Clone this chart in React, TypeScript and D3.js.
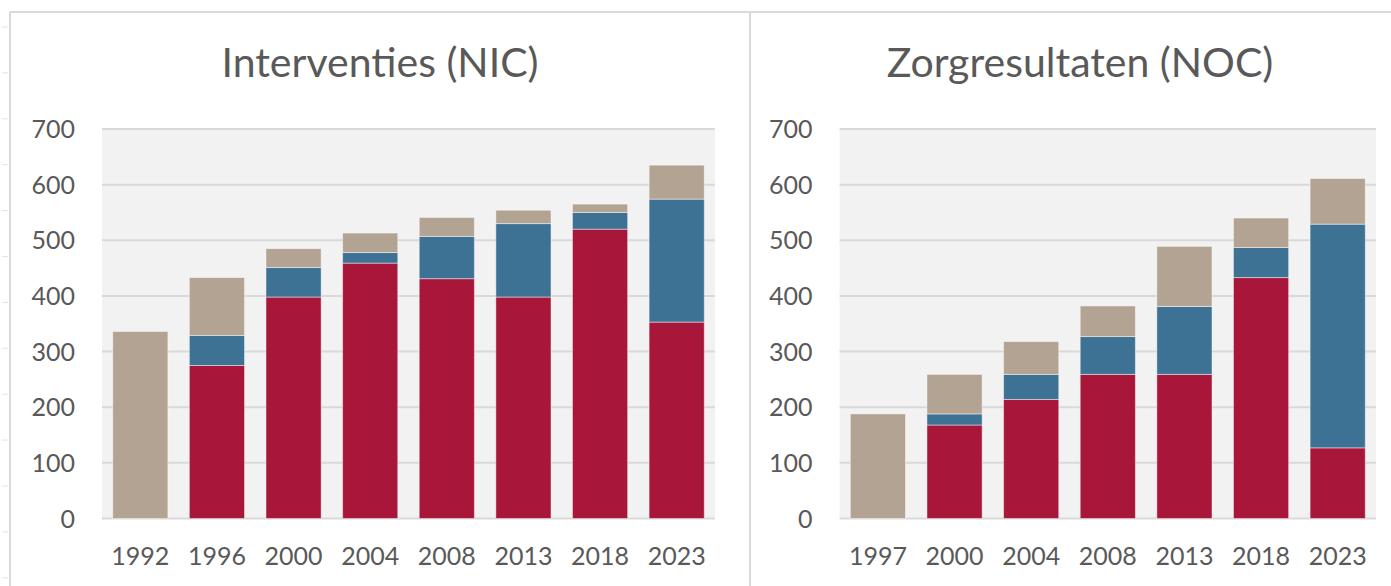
import * as d3 from 'd3';

// Interventies (NIC)
const nicYears = ['1992', '1996', '2000', '2004', '2008', '2013', '2018', '2023'];
const nicRed = [0, 275, 398, 459, 431, 398, 520, 353];
const nicBlue = [0, 54, 53, 19, 76, 132, 30, 221];
const nicBeige = [336, 104, 34, 35, 34, 24, 15, 61];

// Zorgresultaten (NOC)
const nocYears = ['1997', '2000', '2004', '2008', '2013', '2018', '2023'];
const nocRed = [0, 168, 214, 259, 259, 433, 127];
const nocBlue = [0, 20, 45, 68, 122, 54, 402];
const nocBeige = [188, 71, 59, 55, 108, 53, 82];

const yTicks = [0, 100, 200, 300, 400, 500, 600, 700];

const W = 1391;
const H = 586;
const FONT = 'Lato, "Open Sans", sans-serif';
const TEXT = '#595959';
const GRID = '#d9d9d9';
const COLORS = { red: '#a8173a', blue: '#3e7294', beige: '#b3a393' };

type Row = { year: string; red: number; blue: number; beige: number };

interface PanelProps {
  title: string;
  titleX: number;
  years: string[];
  red: number[];
  blue: number[];
  beige: number[];
  x0: number;
  x1: number;
}

const Panel = ({ title, titleX, years, red, blue, beige, x0, x1 }: PanelProps) => {
  const rows: Row[] = years.map((year, i) => ({ year, red: red[i], blue: blue[i], beige: beige[i] }));
  const keys: (keyof typeof COLORS)[] = ['red', 'blue', 'beige'];
  const series = d3.stack<Row>().keys(keys)(rows);

  const x = d3.scaleBand<string>().domain(years).range([x0, x1]).paddingInner(0.28).paddingOuter(0.14);
  const y = d3.scaleLinear().domain([0, 700]).range([518.5, 129]);

  return (
    <g>
      <text x={titleX} y={77} textAnchor="middle" fontSize={41} fill={TEXT} fontFamily={FONT}>
        {title}
      </text>
      <rect x={x0} y={y(700)} width={x1 - x0} height={y(0) - y(700)} fill="#f2f2f2" />
      {yTicks.map(t => (
        <g key={t}>
          <line x1={x0} x2={x1} y1={y(t)} y2={y(t)} stroke={GRID} strokeWidth={2} />
          <text x={x0 - 27} y={y(t) + 9} textAnchor="end" fontSize={25} fill={TEXT} fontFamily={FONT}>
            {t}
          </text>
        </g>
      ))}
      {series.map(s => (
        <g key={s.key} fill={COLORS[s.key as keyof typeof COLORS]}>
          {s.map(d =>
            d[1] - d[0] > 0 ? (
              <rect
                key={d.data.year}
                x={x(d.data.year)}
                y={y(d[1])}
                width={x.bandwidth()}
                height={y(d[0]) - y(d[1])}
                stroke="#ffffff"
                strokeOpacity={0.45}
                strokeWidth={1}
              />
            ) : null
          )}
        </g>
      ))}
      {years.map(yr => (
        <text
          key={yr}
          x={(x(yr) ?? 0) + x.bandwidth() / 2}
          y={565}
          textAnchor="middle"
          fontSize={25}
          fill={TEXT}
          fontFamily={FONT}
        >
          {yr}
        </text>
      ))}
    </g>
  );
};

export default function App() {
  const sideTicks = d3.range(27, H, 45.9);
  return (
    <div style={{ position: 'absolute', left: 0, top: 0 }}>
      <svg width={W} height={H} style={{ display: 'block', background: '#fff' }}>
        {sideTicks.map(t => (
          <line key={t} x1={2} x2={8} y1={t} y2={t} stroke="#e4e4e4" strokeWidth={1} />
        ))}
        <line x1={10} x2={W} y1={12} y2={12} stroke={GRID} strokeWidth={2} />
        <line x1={10} x2={10} y1={12} y2={H} stroke={GRID} strokeWidth={2} />
        <line x1={750} x2={750} y1={12} y2={H} stroke={GRID} strokeWidth={2} />
        <Panel
          title="Interventies (NIC)"
          titleX={380}
          years={nicYears}
          red={nicRed}
          blue={nicBlue}
          beige={nicBeige}
          x0={102}
          x1={715}
        />
        <Panel
          title="Zorgresultaten (NOC)"
          titleX={1080}
          years={nocYears}
          red={nocRed}
          blue={nocBlue}
          beige={nocBeige}
          x0={839.6}
          x1={1376}
        />
      </svg>
    </div>
  );
}
